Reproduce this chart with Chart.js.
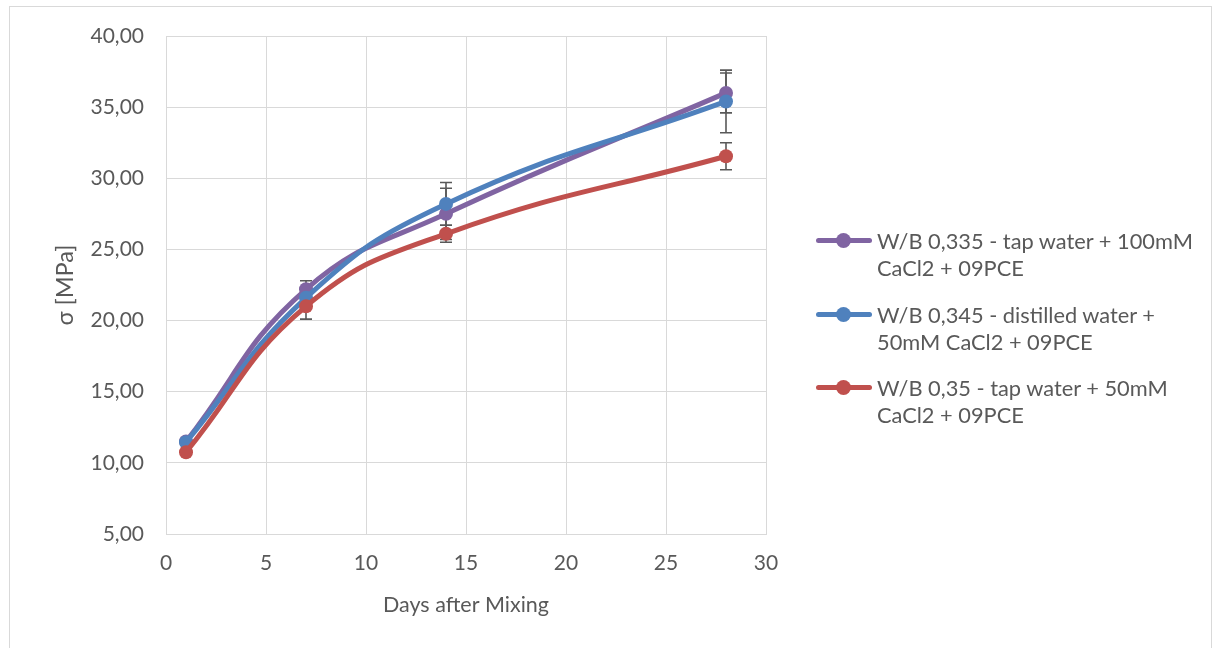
<!DOCTYPE html>
<html>
<head>
<meta charset="utf-8">
<script src="https://cdn.jsdelivr.net/npm/chart.js@4"></script>
<style>
  html, body { margin: 0; padding: 0; background: #fff; }
  #wrap { position: relative; width: 1214px; height: 648px; overflow: hidden; background: #fff; }
  #frame { position: absolute; left: 9px; top: 6px; width: 1203px; height: 660px; border: 1px solid #d9d9d9; box-sizing: border-box; }
  canvas { position: absolute; left: 0; top: 0; }
  #legend { position: absolute; left: 816px; top: 227px; font-family: Lato, "Open Sans", sans-serif; font-size: 21.8px; color: #595959; }
  .item { position: relative; padding-left: 61px; line-height: 27px; margin-bottom: 19.5px; white-space: nowrap; }
  .mk { position: absolute; left: 0; top: 11px; width: 56px; height: 5px; border-radius: 3px; }
  .dot { position: absolute; left: 20px; top: -5px; width: 15px; height: 15px; border-radius: 50%; }
</style>
</head>
<body>
<div id="wrap">
  <div id="frame"></div>
  <canvas id="c" width="1214" height="648"></canvas>
  <div id="legend"></div>
</div>
<script>
const days = [1, 7, 14, 28];
const seriesNames = [
  ["W/B 0,335 - tap water + 100mM", "CaCl2 + 09PCE"],
  ["W/B 0,345 - distilled water +", "50mM CaCl2 + 09PCE"],
  ["W/B 0,35 - tap water + 50mM", "CaCl2 + 09PCE"]
];
const purpleVals = [11.5, 22.2, 27.5, 36.0];
const blueVals = [11.45, 21.6, 28.2, 35.4];
const redVals = [10.75, 21.0, 26.1, 31.55];
const purpleErr = [0.15, 0.6, 1.8, 1.4];
const blueErr = [0.15, 0.5, 1.5, 2.2];
const redErr = [0.15, 0.9, 0.6, 0.95];
const colors = ["#8064A2", "#4F81BD", "#C0504D"];
const xTicks = [0, 5, 10, 15, 20, 25, 30];
const yTicks = [5, 10, 15, 20, 25, 30, 35, 40];

const allVals = [purpleVals, blueVals, redVals];
const allErr = [purpleErr, blueErr, redErr];

const FONT = "Lato, 'Open Sans', sans-serif";

const errorBars = {
  id: 'errorBars',
  beforeDatasetsDraw(chart) {
    const ctx = chart.ctx;
    const xs = chart.scales.x, ys = chart.scales.y;
    ctx.save();
    ctx.strokeStyle = '#595959';
    ctx.lineWidth = 1.6;
    allVals.forEach((vals, si) => {
      vals.forEach((v, i) => {
        const px = xs.getPixelForValue(days[i]);
        const top = ys.getPixelForValue(v + allErr[si][i]);
        const bot = ys.getPixelForValue(v - allErr[si][i]);
        ctx.beginPath();
        ctx.moveTo(px, top); ctx.lineTo(px, bot);
        ctx.moveTo(px - 6, top); ctx.lineTo(px + 6, top);
        ctx.moveTo(px - 6, bot); ctx.lineTo(px + 6, bot);
        ctx.stroke();
      });
    });
    ctx.restore();
  }
};

const datasets = allVals.map((vals, si) => ({
  label: seriesNames[si].join(' '),
  data: vals.map((v, i) => ({ x: days[i], y: v })),
  borderColor: colors[si],
  backgroundColor: colors[si],
  borderWidth: 5,
  pointRadius: 7,
  pointHoverRadius: 7,
  pointBorderWidth: 0,
  tension: 0.45,
  order: 3 - si
}));

new Chart(document.getElementById('c'), {
  type: 'line',
  data: { datasets },
  options: {
    responsive: false,
    animation: false,
    events: [],
    layout: { padding: { left: 51, top: 36, right: 448, bottom: 30 } },
    plugins: { legend: { display: false }, tooltip: { enabled: false } },
    scales: {
      x: {
        type: 'linear', min: 0, max: 30,
        afterBuildTicks: s => { s.ticks = xTicks.map(v => ({ value: v })); },
        afterFit: s => { s.height = 648 - 30 - 534; },
        grid: { color: '#d9d9d9', lineWidth: 1, drawTicks: false },
        border: { color: '#d9d9d9' },
        ticks: { color: '#595959', font: { family: FONT, size: 21 }, padding: 17 },
        title: { display: true, text: 'Days after Mixing', color: '#595959', font: { family: FONT, size: 21.5 }, padding: { top: 0, bottom: 0 } }
      },
      y: {
        type: 'linear', min: 5, max: 40,
        afterBuildTicks: s => { s.ticks = yTicks.map(v => ({ value: v })); },
        afterFit: s => { s.width = 166 - 51; },
        grid: { color: '#d9d9d9', lineWidth: 1, drawTicks: false },
        border: { display: false },
        ticks: { color: '#595959', font: { family: FONT, size: 21 }, padding: 22,
          callback: v => v.toFixed(2).replace('.', ',') },
        title: { display: true, text: 'σ [MPa]', color: '#595959', font: { family: FONT, size: 23.5 }, padding: { top: 0, bottom: 0 } }
      }
    }
  },
  plugins: [errorBars]
});

const lg = document.getElementById('legend');
seriesNames.forEach((lines, si) => {
  const d = document.createElement('div');
  d.className = 'item';
  d.innerHTML = '<span class="mk" style="background:' + colors[si] + '"><span class="dot" style="background:' + colors[si] + '"></span></span>' + lines.join('<br>');
  lg.appendChild(d);
});
</script>
</body>
</html>
